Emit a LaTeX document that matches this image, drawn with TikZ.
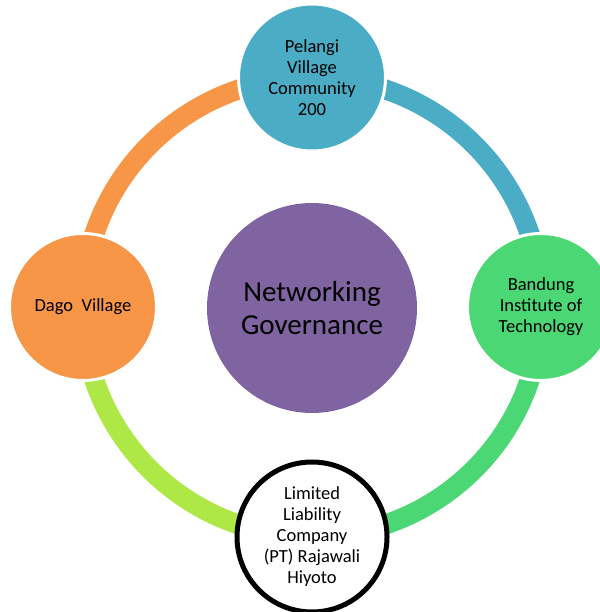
\documentclass[tikz,border=0pt]{standalone}
\usepackage{fontspec}
\setmainfont{Carlito}
\definecolor{cTeal}{HTML}{4BACC6}
\definecolor{cOrange}{HTML}{F79646}
\definecolor{cGreen}{HTML}{4AD774}
\definecolor{cLime}{HTML}{AEE846}
\definecolor{cPurple}{HTML}{8064A2}
\begin{document}
\begin{tikzpicture}[x=1pt,y=1pt,
  ringarc/.style={line width=20pt},
  outer/.style={circle, minimum size=147pt, inner sep=0pt, draw=white, line width=3pt, align=center, text=black, font=\fontsize{18.5}{21}\selectfont},
  hub/.style={circle, minimum size=210pt, inner sep=0pt, fill=cPurple, align=center, text=black, font=\fontsize{29}{33}\selectfont}
]
\useasboundingbox (0,0) rectangle (599,612);
\coordinate (O) at (312,305);
\draw[ringarc, cOrange] (O) ++(90:229.5) arc[start angle=90, end angle=180, radius=229.5];
\draw[ringarc, cTeal] (O) ++(0:229.5) arc[start angle=0, end angle=90, radius=229.5];
\draw[ringarc, cGreen] (O) ++(270:229.5) arc[start angle=270, end angle=360, radius=229.5];
\draw[ringarc, cLime] (O) ++(180:229.5) arc[start angle=180, end angle=270, radius=229.5];
\node[hub] (hub) at (312,304) {Networking\\Governance};
\node[outer, fill=cTeal] (top) at (312,534.5) {Pelangi\\Village\\Community\\200};
\node[outer, fill=cGreen] (right) at (541,305) {Bandung\\Institute of\\Technology};
\node[outer, fill=cOrange] (left) at (83,305) {Dago\ \ Village};
\node[outer, fill=white, draw=black, line width=5pt, minimum size=150pt] (bottom) at (312,75) {Limited\\Liability\\Company\\(PT) Rajawali\\Hiyoto};
\end{tikzpicture}
\end{document}
